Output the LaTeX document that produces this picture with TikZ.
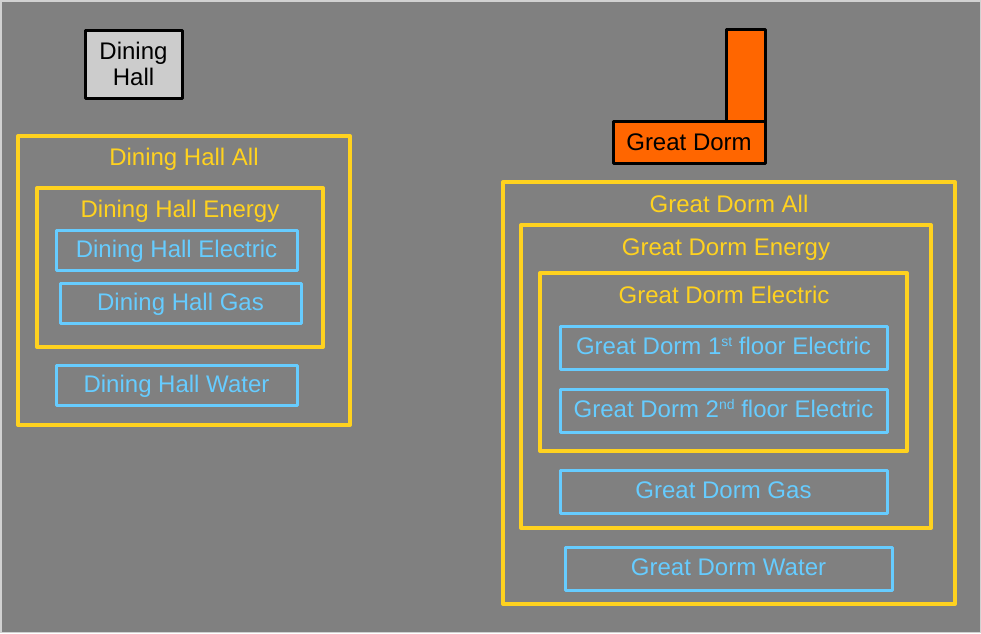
\documentclass[tikz,border=0pt]{standalone}
\usepackage{fontspec}
\setmainfont{Liberation Sans}
\definecolor{bg}{HTML}{808080}
\definecolor{ylw}{HTML}{FFD21F}
\definecolor{blu}{HTML}{66CCFF}
\definecolor{org}{HTML}{FF6600}
\definecolor{lgr}{HTML}{CCCCCC}
\newcommand{\supx}[1]{\raisebox{8pt}{\fontsize{14}{14}\selectfont #1}}
\begin{document}
\begin{tikzpicture}[x=1pt,y=-1pt,
  every node/.style={font=\fontsize{24}{26}\selectfont, inner sep=0pt},
  ybox/.style={draw=ylw, line width=4pt, rectangle, line join=round},
  bbox/.style={draw=blu, line width=3pt, rectangle, text=blu, line join=round, text height=14pt, text depth=0pt},
  ylab/.style={text=ylw, text height=17pt, text depth=0pt},
  kbox/.style={draw=black, line width=3pt, rectangle, line join=round}]
\useasboundingbox (0,0) rectangle (981,633);
\fill[bg] (0,0) rectangle (981,633);
\draw[lgr!90!white, line width=1.5pt] (0.75,0.75) rectangle (980.25,632.25);

% Dining Hall building
\node[kbox, fill=lgr, minimum width=97pt, minimum height=68pt, align=center] (dh) at (133.5,64) {Dining\\Hall};

% Dining Hall containers
\node[ybox, minimum width=332pt, minimum height=289pt] (dhall) at (184,280.5) {};
\node[ylab] (dhallL) at (184,157) {Dining Hall All};
\node[ybox, minimum width=286pt, minimum height=159pt] (dhen) at (180,267.5) {};
\node[ylab] (dhenL) at (180,209) {Dining Hall Energy};
\node[bbox, minimum width=241pt, minimum height=40pt] (dhel) at (176.5,250) {Dining Hall Electric};
\node[bbox, minimum width=241pt, minimum height=40pt] (dhgas) at (180.5,303) {Dining Hall Gas};
\node[bbox, minimum width=241pt, minimum height=40pt] (dhwat) at (176.5,385) {Dining Hall Water};

% Great Dorm building
\node[kbox, fill=org, minimum width=39pt, minimum height=93pt] (gdt) at (745.5,76) {};
\node[kbox, fill=org, minimum width=152pt, minimum height=42pt] (gd) at (689,142) {Great Dorm};

% Great Dorm containers
\node[ybox, minimum width=452pt, minimum height=422pt] (gdall) at (729,393) {};
\node[ylab] (gdallL) at (729,204) {Great Dorm All};
\node[ybox, minimum width=410pt, minimum height=303pt] (gden) at (726,376.5) {};
\node[ylab] (gdenL) at (726,247) {Great Dorm Energy};
\node[ybox, minimum width=367pt, minimum height=178pt] (gdel) at (723.5,362) {};
\node[ylab] (gdelL) at (724,295) {Great Dorm Electric};
\node[bbox, minimum width=327pt, minimum height=43pt] (gdf1) at (723.5,347.5) {Great Dorm 1\supx{st} floor Electric};
\node[bbox, minimum width=327pt, minimum height=43pt] (gdf2) at (723.5,410.5) {Great Dorm 2\supx{nd} floor Electric};
\node[bbox, minimum width=327pt, minimum height=43pt] (gdgas) at (723.5,491.5) {Great Dorm Gas};
\node[bbox, minimum width=327pt, minimum height=43pt] (gdwat) at (728.5,568.5) {Great Dorm Water};
\end{tikzpicture}
\end{document}
